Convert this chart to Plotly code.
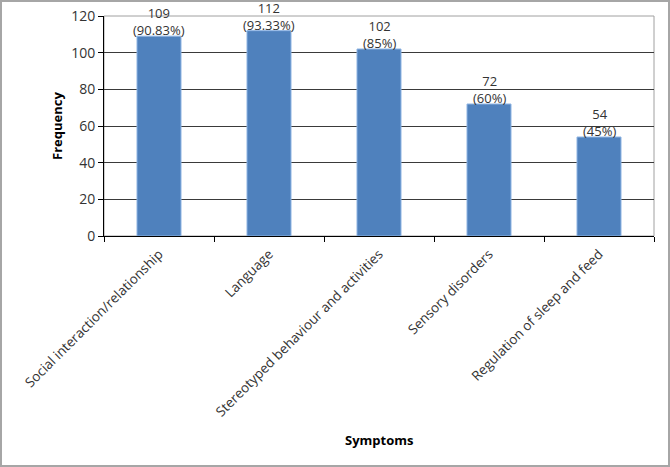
import plotly.graph_objects as go

categories = ["Social interaction/relationship", "Language", "Stereotyped behaviour and activities",
              "Sensory disorders", "Regulation of sleep and feed"]
frequency = [109, 112, 102, 72, 54]
percent_labels = ["90.83%", "93.33%", "85%", "60%", "45%"]
y_ticks = [0, 20, 40, 60, 80, 100, 120]

labels = [f"{v}<br>({p})" for v, p in zip(frequency, percent_labels)]

FONT = "Open Sans, Liberation Sans, sans-serif"
TXT = "#333333"

fig = go.Figure(go.Bar(
    x=categories, y=frequency,
    marker=dict(color="#4F81BD", line=dict(color="#8EB4E3", width=1)),
    width=0.4, cliponaxis=False,
))

W, H = 670, 467
ml, mr, mt, mb = 104, 16, 16, 231
pw, ph = W - ml - mr, H - mt - mb

annotations = [
    dict(x=c, y=v, xref="x", yref="y", text=t, showarrow=False, yanchor="bottom",
         yshift=-5, font=dict(family=FONT, size=13, color=TXT))
    for c, v, t in zip(categories, frequency, labels)
]
annotations.append(dict(x=0.5, y=-(440 - mt - ph) / ph, xref="paper", yref="paper",
                        text="<b>Symptoms</b>", showarrow=False, yanchor="middle",
                        font=dict(family=FONT, size=13, color="black")))
annotations.append(dict(x=-(ml - 57) / pw, y=0.5, xref="paper", yref="paper",
                        text="<b>Frequency</b>", showarrow=False, textangle=-90, xanchor="center",
                        font=dict(family=FONT, size=13, color="black")))

fig.update_layout(
    width=W, height=H,
    margin=dict(l=ml, r=mr, t=mt, b=mb, autoexpand=False),
    paper_bgcolor="white", plot_bgcolor="white",
    showlegend=False,
    font=dict(family=FONT, size=13, color=TXT),
    annotations=annotations,
    shapes=[
        dict(type="rect", xref="paper", yref="paper", x0=0, x1=1, y0=0, y1=1,
             line=dict(color="#A0A0A0", width=1), layer="below"),
        dict(type="rect", xref="paper", yref="paper",
             x0=-(ml - 1) / pw, x1=1 + (mr - 1) / pw, y0=-(mb - 1) / ph, y1=1 + (mt - 1) / ph,
             line=dict(color="#A6A6A6", width=2)),
    ],
)
fig.update_xaxes(
    type="category", tickangle=-45, tickson="boundaries", ticks="outside", ticklen=5,
    tickcolor="black", showline=True, linecolor="black", linewidth=1,
    tickfont=dict(family=FONT, size=13.5, color=TXT), automargin=False,
    ticklabelstandoff=4,
    showgrid=False, range=[-0.5, 4.5],
)
fig.update_yaxes(
    range=[0, 120], tickvals=y_ticks, ticks="outside", ticklen=5, tickcolor="black",
    showline=True, linecolor="black", linewidth=1, automargin=False,
    showgrid=True, gridcolor="#3A3A3A", gridwidth=1,
    tickfont=dict(family=FONT, size=14, color=TXT),
    zeroline=False,
)
fig.write_html("out.html", config={"displayModeBar": False},
               post_script="document.body.style.margin='0';document.body.style.overflow='hidden';")
